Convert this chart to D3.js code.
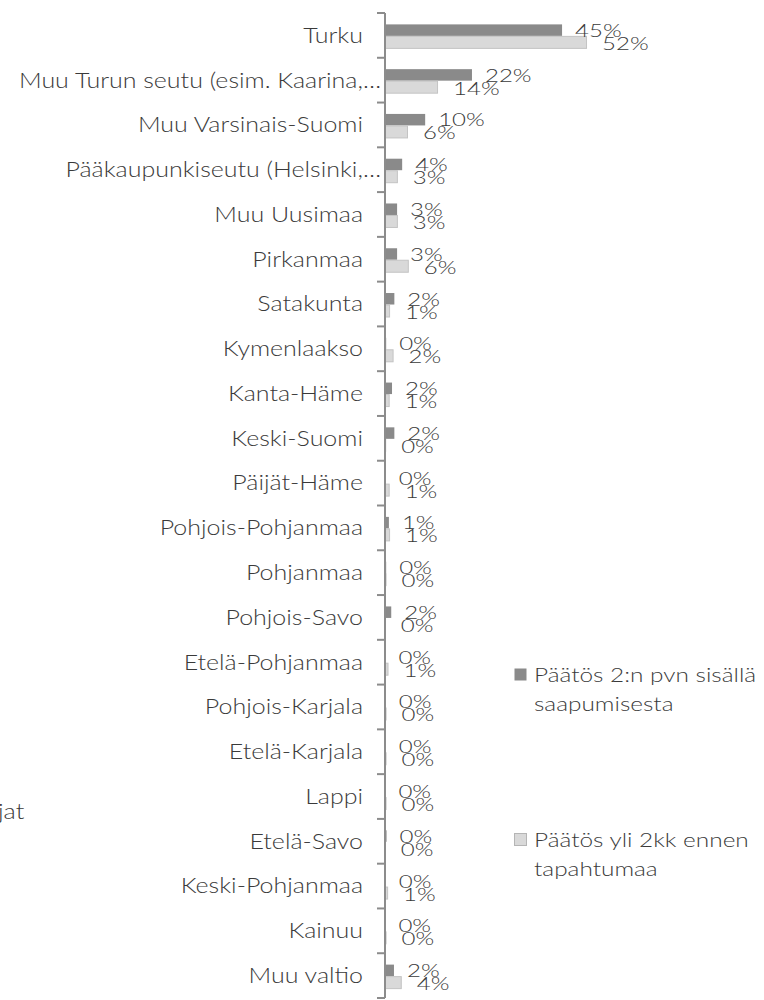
<!DOCTYPE html>
<html>
<head>
<meta charset="utf-8">
<script src="https://cdn.jsdelivr.net/npm/d3@7"></script>
<style>
  body { margin: 0; background: #fff; }
  svg { display: block; font-family: Lato, "Open Sans", sans-serif; }
</style>
</head>
<body>
<svg id="svg1" width="764" height="1000"></svg>
<script>
// categories, top to bottom
var categories = ['Turku', 'Muu Turun seutu (esim. Kaarina,…', 'Muu Varsinais-Suomi',
    'Pääkaupunkiseutu (Helsinki,…', 'Muu Uusimaa', 'Pirkanmaa', 'Satakunta', 'Kymenlaakso',
    'Kanta-Häme', 'Keski-Suomi', 'Päijät-Häme', 'Pohjois-Pohjanmaa', 'Pohjanmaa',
    'Pohjois-Savo', 'Etelä-Pohjanmaa', 'Pohjois-Karjala', 'Etelä-Karjala', 'Lappi',
    'Etelä-Savo', 'Keski-Pohjanmaa', 'Kainuu', 'Muu valtio'];

// share of answers, percent
var within2days = [45.4, 22.3, 10.3, 4.4, 3.1, 3.1, 2.4, 0.3, 1.8, 2.4, 0.2, 1.0, 0.3,
    1.6, 0.1, 0.2, 0.2, 0.1, 0.4, 0.2, 0.1, 2.3];
var over2months = [51.8, 13.6, 5.9, 3.3, 3.3, 6.1, 1.3, 2.2, 1.2, 0.3, 1.2, 1.3, 0.4,
    0.2, 0.9, 0.4, 0.4, 0.4, 0.2, 0.8, 0.4, 4.3];

var svg = d3.select('#svg1');

var axisX = 385;
var x = d3.scaleLinear().domain([0, 60]).range([axisX, axisX + 234]);
var y = d3.scaleBand().domain(categories).range([13, 998]).padding(0);

var textColor = '#3a3a3a';
var darkFill = '#8a8a8a';
var lightFill = '#d9d9d9';

// the original picture is stretched sideways, so the text is too
function wideText(sel, px, py, size, sx) {
    return sel.append('text')
        .attr('transform', 'translate(' + px + ',' + py + ') scale(' + sx + ',1)')
        .attr('dy', '0.35em')
        .attr('font-size', size)
        .attr('font-weight', 300)
        .attr('fill', textColor);
}

// category labels
categories.forEach(function(c){
    var px = c.indexOf('…') >= 0 ? 381 : 363;
    wideText(svg, px, y(c) + y.bandwidth()/2, 21, 1.19)
        .attr('text-anchor', 'end')
        .text(c);
});

// bars
var rows = categories.map(function(c, i){
    return {cat: c, a: within2days[i], b: over2months[i]};
});

var g = svg.selectAll('g.row')
    .data(rows)
    .enter()
    .append('g')
    .attr('class', 'row')
    .attr('transform', function(d){ return 'translate(0,' + (y(d.cat) + y.bandwidth()/2) + ')'; });

g.append('rect')
    .attr('x', axisX)
    .attr('y', -11)
    .attr('width', function(d){ return x(d.a) - axisX; })
    .attr('height', 11.5)
    .attr('fill', darkFill);

g.append('rect')
    .attr('x', axisX + 0.5)
    .attr('y', 1)
    .attr('width', function(d){ return Math.max(0, x(d.b) - axisX - 1); })
    .attr('height', 12)
    .attr('fill', lightFill)
    .attr('stroke', '#c3c3c3')
    .attr('stroke-width', 1);

// value labels
g.each(function(d){
    var row = d3.select(this);
    wideText(row, x(d.a) + 13, -5, 18.5, 1.3).text(Math.round(d.a) + '%');
    wideText(row, x(d.b) + 15, 8, 18.5, 1.3).text(Math.round(d.b) + '%');
});

// axis line with ticks between categories
svg.append('line')
    .attr('x1', axisX).attr('x2', axisX)
    .attr('y1', y.range()[0]).attr('y2', y.range()[1])
    .attr('stroke', '#8c8c8c')
    .attr('stroke-width', 2);

var tickYs = categories.map(function(c){ return y(c); }).concat([y.range()[1]]);
svg.selectAll('line.tick')
    .data(tickYs)
    .enter()
    .append('line')
    .attr('class', 'tick')
    .attr('x1', axisX - 8).attr('x2', axisX)
    .attr('y1', function(d){ return d; }).attr('y2', function(d){ return d; })
    .attr('stroke', '#8c8c8c')
    .attr('stroke-width', 2);

// legend
var legendData = [
    {lines: ['Päätös 2:n pvn sisällä', 'saapumisesta'], fill: darkFill, stroke: 'none', y: 675},
    {lines: ['Päätös yli 2kk ennen', 'tapahtumaa'], fill: lightFill, stroke: '#b5b5b5', y: 840}
];

legendData.forEach(function(d){
    svg.append('rect')
        .attr('x', 514.5).attr('y', d.y - 6.5)
        .attr('width', 12).attr('height', 12)
        .attr('fill', d.fill)
        .attr('stroke', d.stroke);
    d.lines.forEach(function(line, i){
        wideText(svg, 534, d.y + i * 29, 20, 1.22).text(line);
    });
});

// clipped title from the neighbouring element
wideText(svg, -2, 812, 21, 1.2).text('jat');
</script>
</body>
</html>
